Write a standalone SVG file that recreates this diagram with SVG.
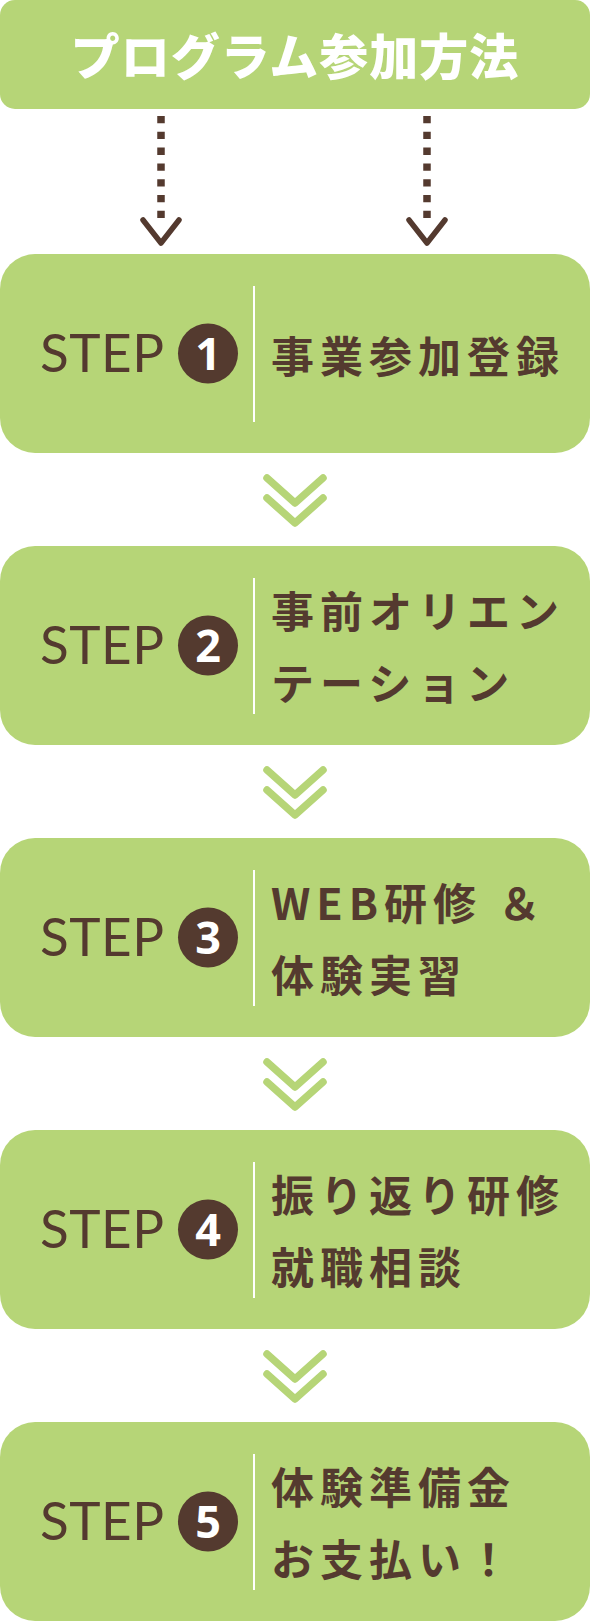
<svg xmlns="http://www.w3.org/2000/svg" width="590" height="1622" viewBox="0 0 590 1622">
<style>
.box{fill:#b6d577}
.div{stroke:#ffffff;stroke-width:2}
.step{font-family:Lato,"Liberation Sans",sans-serif;font-weight:400;font-size:53px;fill:#543a2f;letter-spacing:0.5px}
.circ{fill:#543a2f}
.num{font-family:"Noto Sans","Liberation Sans",sans-serif;font-weight:700;font-size:45px;fill:#ffffff;text-anchor:middle}
.lbl{font-family:"Noto Sans CJK JP","Noto Sans CJK SC",sans-serif;font-weight:700;font-size:43px;fill:#543a2f;letter-spacing:6px}
.title{font-family:"Noto Sans CJK JP","Noto Sans CJK SC",sans-serif;font-weight:900;font-size:49px;fill:#ffffff;text-anchor:middle;letter-spacing:1px}
.dots{stroke:#543a2f;stroke-width:7.5;stroke-dasharray:7.3 8.5;fill:none}
.head{stroke:#543a2f;stroke-width:5.5;stroke-linecap:round;stroke-linejoin:round;fill:none}
.chev{stroke:#b6d577;stroke-width:7.5;stroke-linecap:round;stroke-linejoin:round;fill:none}
</style>
<g id="title">
<rect class="box" x="0" y="0" width="590" height="109" rx="15"/>
<text class="title" x="295" y="75">プログラム参加方法</text>
</g>
<g id="step1">
<rect class="box" x="0" y="254" width="590" height="199" rx="35"/>
<text class="step" x="40" y="372">STEP</text>
<circle class="circ" cx="208" cy="353.5" r="30"/>
<text class="num" x="208" y="370">1</text>
<line class="div" x1="254" y1="286" x2="254" y2="422"/>
<text class="lbl" x="271" y="373">事業参加登録</text>
</g>
<g id="step2">
<rect class="box" x="0" y="546" width="590" height="199" rx="35"/>
<text class="step" x="40" y="664">STEP</text>
<circle class="circ" cx="208" cy="645.5" r="30"/>
<text class="num" x="208" y="662">2</text>
<line class="div" x1="254" y1="578" x2="254" y2="714"/>
<text class="lbl" x="271" y="628">事前オリエン</text>
<text class="lbl" x="271" y="700">テーション</text>
</g>
<g id="step3">
<rect class="box" x="0" y="838" width="590" height="199" rx="35"/>
<text class="step" x="40" y="956">STEP</text>
<circle class="circ" cx="208" cy="937.5" r="30"/>
<text class="num" x="208" y="954">3</text>
<line class="div" x1="254" y1="870" x2="254" y2="1006"/>
<text class="lbl" x="271" y="920">WEB研修 ＆</text>
<text class="lbl" x="271" y="992">体験実習</text>
</g>
<g id="step4">
<rect class="box" x="0" y="1130" width="590" height="199" rx="35"/>
<text class="step" x="40" y="1248">STEP</text>
<circle class="circ" cx="208" cy="1229.5" r="30"/>
<text class="num" x="208" y="1246">4</text>
<line class="div" x1="254" y1="1162" x2="254" y2="1298"/>
<text class="lbl" x="271" y="1212">振り返り研修</text>
<text class="lbl" x="271" y="1284">就職相談</text>
</g>
<g id="step5">
<rect class="box" x="0" y="1422" width="590" height="199" rx="35"/>
<text class="step" x="40" y="1540">STEP</text>
<circle class="circ" cx="208" cy="1521.5" r="30"/>
<text class="num" x="208" y="1538">5</text>
<line class="div" x1="254" y1="1454" x2="254" y2="1590"/>
<text class="lbl" x="271" y="1504">体験準備金</text>
<text class="lbl" x="271" y="1576">お支払い！</text>
</g>
<g id="connectors">
<line class="dots" x1="161" y1="116" x2="161" y2="219"/>
<polyline class="head" points="143,220 161,243 179,220"/>
<line class="dots" x1="427" y1="116" x2="427" y2="219"/>
<polyline class="head" points="409,220 427,243 445,220"/>
<g id="chev1"><polyline class="chev" points="267,478 295,503 323,478"/><polyline class="chev" points="267,498 295,523 323,498"/></g>
<g id="chev2"><polyline class="chev" points="267,770 295,795 323,770"/><polyline class="chev" points="267,790 295,815 323,790"/></g>
<g id="chev3"><polyline class="chev" points="267,1062 295,1087 323,1062"/><polyline class="chev" points="267,1082 295,1107 323,1082"/></g>
<g id="chev4"><polyline class="chev" points="267,1354 295,1379 323,1354"/><polyline class="chev" points="267,1374 295,1399 323,1374"/></g>
</g>
</svg>
